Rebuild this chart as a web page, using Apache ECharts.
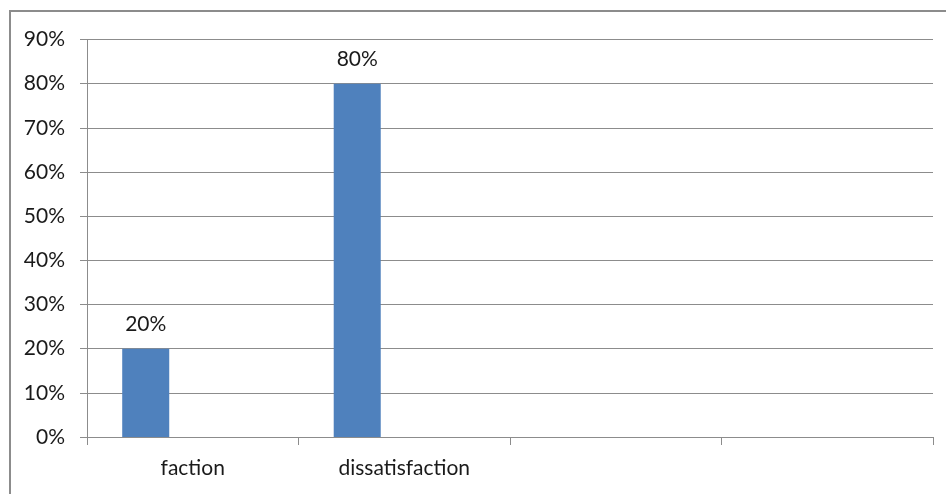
<!DOCTYPE html>
<html>
<head>
<meta charset="utf-8">
<script src="https://cdn.jsdelivr.net/npm/echarts@6/dist/echarts.min.js"></script>
<style>
html,body{margin:0;padding:0;background:#fff;}
#chart{width:946px;height:494px;}
</style>
</head>
<body>
<div id="chart"></div>
<script>
const categories = ['faction', 'dissatisfaction', '', ''];
const series1Values = [0.20, 0.80, null, null];
const series2Values = [null, null, null, null];
const series3Values = [null, null, null, null];
const yTicks = [0, 0.1, 0.2, 0.3, 0.4, 0.5, 0.6, 0.7, 0.8, 0.9];

const FONT = 'Lato';
const FS = 21;
const pct = v => Math.round(v * 100) + '%';

const chart = echarts.init(document.getElementById('chart'), null, {renderer: 'canvas'});
chart.setOption({
  animation: false,
  backgroundColor: '#ffffff',
  grid: {left: 87, right: 13, top: 39.5, bottom: 57, containLabel: false},
  graphic: [{
    type: 'rect',
    shape: {x: 10, y: 11, width: 1000, height: 1000},
    style: {fill: 'none', stroke: '#8c8c8c', lineWidth: 2},
    silent: true
  }],
  xAxis: {
    type: 'category',
    data: categories,
    axisLine: {show: true, lineStyle: {color: '#8c8c8c', width: 1}},
    axisTick: {show: true, length: 8, lineStyle: {color: '#8c8c8c'}},
    axisLabel: {color: '#1a1a1a', fontFamily: FONT, fontSize: FS, margin: 21}
  },
  yAxis: {
    type: 'value',
    min: yTicks[0],
    max: yTicks[yTicks.length - 1],
    interval: 0.1,
    axisLine: {show: true, lineStyle: {color: '#8c8c8c', width: 1}},
    axisTick: {show: true, length: 7, lineStyle: {color: '#8c8c8c'}},
    splitLine: {show: true, lineStyle: {color: '#8c8c8c', width: 1}},
    axisLabel: {color: '#1a1a1a', fontFamily: FONT, fontSize: FS, margin: 22, formatter: v => pct(v)}
  },
  series: [
    {
      type: 'bar', data: series1Values, barGap: '0%', barCategoryGap: '33.3%',
      itemStyle: {color: '#4f81bd'},
      label: {show: true, position: 'top', distance: 14, color: '#1a1a1a', fontFamily: FONT, fontSize: FS,
        formatter: p => pct(p.value)}
    },
    {type: 'bar', data: series2Values, barGap: '0%', barCategoryGap: '33.3%', itemStyle: {color: '#c0504d'}},
    {type: 'bar', data: series3Values, barGap: '0%', barCategoryGap: '33.3%', itemStyle: {color: '#9bbb59'}}
  ]
});
</script>
</body>
</html>
